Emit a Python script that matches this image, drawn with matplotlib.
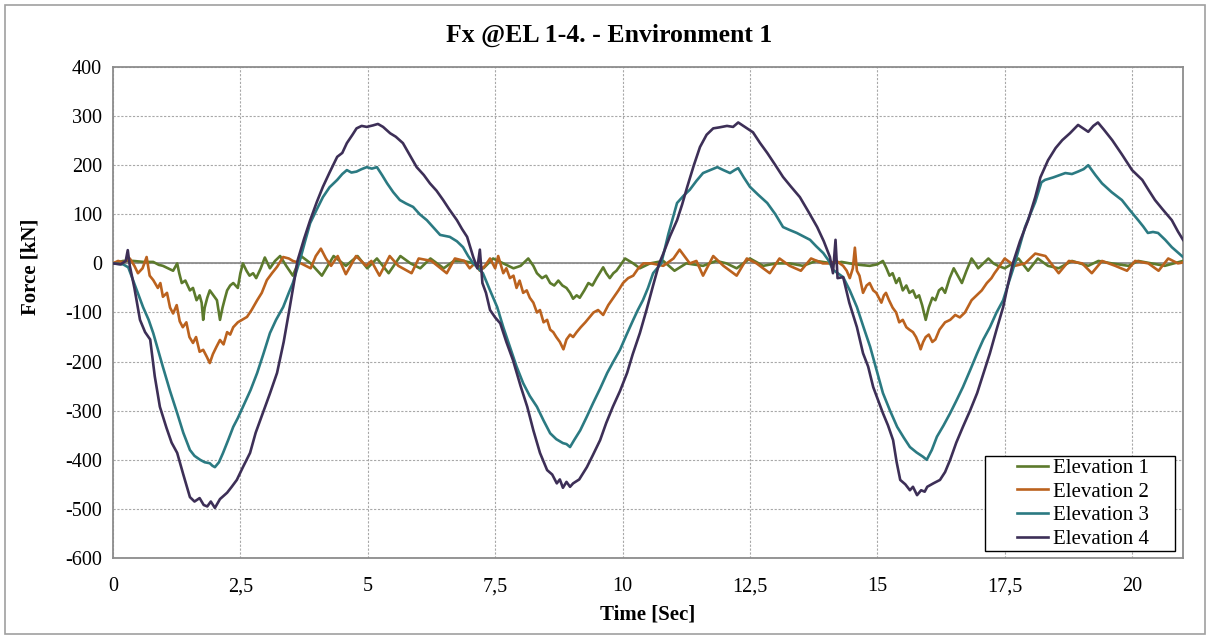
import numpy as np
import matplotlib.pyplot as plt
from matplotlib.patches import Rectangle

plt.rcParams['font.family'] = ['Liberation Serif', 'DejaVu Serif']
plt.rcParams['axes.unicode_minus'] = False

# Elevation 1 (green)
t_el1 = [0.0, 0.2, 0.4, 0.6, 0.79, 0.9, 0.98, 1.08, 1.18, 1.26, 1.3, 1.35, 1.42, 1.51, 1.57, 1.64, 1.7, 1.74, 1.77, 1.8,
         1.85, 1.9, 1.97, 2.04, 2.1, 2.15, 2.2, 2.24, 2.3, 2.36, 2.45, 2.5, 2.55, 2.62, 2.68, 2.75, 2.81, 2.9, 2.98, 3.08,
         3.18, 3.28, 3.4, 3.53, 3.69, 3.88, 4.1, 4.33, 4.57, 4.8, 4.99, 5.18, 5.41, 5.64, 5.84, 6.03, 6.23, 6.49, 6.69, 6.88,
         7.08, 7.27, 7.46, 7.66, 7.86, 8.0, 8.15, 8.25, 8.32, 8.42, 8.5, 8.58, 8.66, 8.74, 8.82, 8.9, 8.97, 9.03, 9.1, 9.16,
         9.25, 9.33, 9.41, 9.49, 9.55, 9.62, 9.68, 9.75, 9.82, 9.88, 9.95, 10.05, 10.21, 10.34, 10.54, 10.8, 11.02, 11.25, 11.58, 11.84,
         12.04, 12.24, 12.5, 12.76, 13.02, 13.28, 13.54, 13.8, 14.12, 14.3, 14.46, 14.65, 14.85, 15.0, 15.11, 15.18, 15.24, 15.3, 15.37, 15.43,
         15.5, 15.57, 15.63, 15.7, 15.76, 15.82, 15.88, 15.95, 16.01, 16.08, 16.14, 16.21, 16.27, 16.33, 16.42, 16.5, 16.58, 16.66, 16.75, 16.85,
         16.92, 16.98, 17.08, 17.18, 17.28, 17.37, 17.5, 17.66, 17.77, 17.96, 18.15, 18.35, 18.56, 18.82, 19.14, 19.34, 19.6, 19.93, 20.12, 20.38,
         20.64, 21.0]
f_el1 = [0, 5, 5, 3, 3, -3, -5, -10, -15, 0, -20, -40, -35, -55, -50, -75, -65, -80, -115, -90,
         -70, -55, -65, -75, -115, -90, -70, -55, -45, -40, -50, -20, 0, -15, -25, -20, -30, -10, 12, -10,
         5, 15, -5, -25, 15, 0, -25, 15, -5, 15, -10, 10, -20, 15, 0, -10, 10, -10, 5, 5,
         0, -10, 10, 0, -10, -5, 10, -5, -20, -30, -25, -40, -45, -35, -45, -50, -60, -72, -65, -70,
         -55, -40, -45, -30, -20, -8, -20, -30, -20, -15, -5, 10, 0, -10, 0, 5, -15, 0, -5, 5,
         0, -10, 10, -5, 0, 0, -5, 5, 0, 3, 0, -3, -5, -2, 5, -10, -25, -20, -40, -30,
         -55, -45, -60, -55, -70, -65, -85, -115, -90, -70, -75, -55, -50, -60, -30, -10, -25, -40, -15, 10,
         0, -10, 0, 10, 0, -5, -10, 0, 10, -15, 10, -5, -10, 5, -5, 5, 0, -5, 5, 0,
         -5, 5]

# Elevation 2 (orange)
t_el2 = [0.0, 0.1, 0.2, 0.33, 0.42, 0.49, 0.58, 0.66, 0.72, 0.79, 0.88, 0.93, 0.98, 1.06, 1.12, 1.18, 1.25, 1.31, 1.37, 1.44,
         1.5, 1.57, 1.63, 1.7, 1.77, 1.84, 1.9, 1.96, 2.03, 2.1, 2.17, 2.24, 2.3, 2.36, 2.45, 2.53, 2.63, 2.72, 2.83, 2.92,
         3.02, 3.12, 3.22, 3.34, 3.45, 3.53, 3.69, 3.88, 3.98, 4.08, 4.18, 4.28, 4.41, 4.57, 4.77, 4.97, 5.07, 5.23, 5.43, 5.6,
         5.86, 6.0, 6.25, 6.55, 6.71, 6.9, 7.0, 7.1, 7.2, 7.3, 7.4, 7.5, 7.56, 7.66, 7.72, 7.79, 7.86, 7.92, 7.98, 8.05,
         8.12, 8.18, 8.25, 8.32, 8.38, 8.45, 8.52, 8.58, 8.64, 8.7, 8.77, 8.84, 8.9, 8.97, 9.03, 9.1, 9.18, 9.27, 9.35, 9.43,
         9.52, 9.62, 9.72, 9.82, 9.92, 10.01, 10.11, 10.21, 10.31, 10.41, 10.57, 10.8, 11.0, 11.12, 11.32, 11.45, 11.58, 11.78, 11.98, 12.24,
         12.44, 12.63, 12.89, 13.08, 13.28, 13.5, 13.7, 13.93, 14.07, 14.2, 14.33, 14.4, 14.46, 14.52, 14.56, 14.6, 14.65, 14.72, 14.79, 14.85,
         14.92, 14.98, 15.03, 15.08, 15.13, 15.17, 15.23, 15.3, 15.37, 15.43, 15.5, 15.57, 15.63, 15.7, 15.76, 15.82, 15.85, 15.9, 15.95, 16.01,
         16.08, 16.14, 16.22, 16.33, 16.43, 16.53, 16.62, 16.72, 16.85, 16.95, 17.05, 17.15, 17.24, 17.3, 17.37, 17.5, 17.63, 17.7, 17.9, 18.1,
         18.3, 18.56, 18.76, 19.02, 19.21, 19.41, 19.67, 19.9, 20.06, 20.32, 20.52, 20.71, 20.9, 21.0]
f_el2 = [0, 5, 2, 10, -5, -20, -10, 13, -25, -34, -50, -40, -68, -60, -90, -102, -85, -118, -130, -120,
         -150, -162, -150, -180, -176, -190, -203, -185, -170, -156, -165, -140, -145, -130, -120, -115, -109, -95, -75, -60,
         -34, -20, -7, 13, 10, 5, 0, -10, 15, 30, 10, -5, 15, -22, 15, -5, 5, -25, 15, -5,
         -20, 10, 5, -20, 10, 5, -10, 0, -15, -5, 10, -10, 15, -20, -10, -30, -25, -50, -35, -60,
         -55, -70, -80, -100, -95, -120, -115, -135, -140, -150, -160, -175, -155, -145, -150, -140, -130, -120, -110, -100,
         -95, -105, -85, -70, -55, -40, -30, -25, -10, 0, 0, -5, 10, 28, 0, 5, -25, 15, -5, -25,
         10, 0, -20, 10, -5, -15, 10, 0, 0, 5, -5, -15, -30, -10, 32, -15, -25, -60, -45, -40,
         -55, -60, -70, -80, -65, -60, -75, -90, -100, -120, -115, -130, -135, -140, -150, -165, -175, -160, -150, -145,
         -160, -155, -135, -120, -115, -105, -110, -100, -75, -65, -55, -40, -30, -20, -10, 10, 0, -5, 0, 20,
         15, -20, 5, 0, -20, 5, -5, -15, 5, 0, -15, 10, 0, 2]

# Elevation 3 (teal)
t_el3 = [0.0, 0.2, 0.3, 0.45, 0.59, 0.7, 0.79, 0.88, 0.98, 1.12, 1.26, 1.38, 1.51, 1.6, 1.71, 1.8, 1.9, 1.95, 2.0, 2.08,
         2.16, 2.26, 2.36, 2.45, 2.55, 2.7, 2.83, 2.95, 3.08, 3.2, 3.34, 3.45, 3.53, 3.67, 3.77, 3.87, 4.0, 4.12, 4.25, 4.4,
         4.5, 4.59, 4.68, 4.78, 4.88, 4.98, 5.08, 5.18, 5.28, 5.38, 5.5, 5.63, 5.75, 5.89, 6.02, 6.16, 6.3, 6.42, 6.52, 6.61,
         6.75, 6.87, 6.97, 7.07, 7.15, 7.26, 7.4, 7.54, 7.66, 7.79, 7.92, 8.05, 8.18, 8.32, 8.45, 8.58, 8.7, 8.83, 8.9, 8.97,
         9.05, 9.17, 9.3, 9.42, 9.56, 9.7, 9.82, 9.95, 10.08, 10.21, 10.3, 10.4, 10.5, 10.6, 10.76, 10.9, 11.07, 11.2, 11.32, 11.45,
         11.58, 11.72, 11.86, 11.98, 12.11, 12.2, 12.27, 12.38, 12.5, 12.66, 12.84, 13.0, 13.15, 13.28, 13.42, 13.55, 13.68, 13.8, 13.94, 14.05,
         14.13, 14.33, 14.46, 14.6, 14.73, 14.86, 14.98, 15.11, 15.25, 15.39, 15.52, 15.64, 15.77, 15.9, 15.97, 16.07, 16.17, 16.3, 16.43, 16.55,
         16.68, 16.82, 16.96, 17.08, 17.21, 17.34, 17.47, 17.56, 17.66, 17.78, 17.9, 18.1, 18.22, 18.29, 18.45, 18.69, 18.82, 18.94, 19.05, 19.14,
         19.28, 19.41, 19.6, 19.8, 19.96, 20.12, 20.22, 20.31, 20.41, 20.51, 20.65, 20.78, 20.9, 21.0]
f_el3 = [0, -2, -8, -50, -89, -115, -142, -175, -211, -260, -305, -345, -380, -392, -400, -405, -407, -412, -415, -405,
         -386, -360, -333, -315, -292, -258, -223, -185, -142, -115, -89, -60, -40, 7, 45, 82, 110, 135, 155, 170,
         182, 190, 185, 187, 192, 196, 193, 196, 180, 163, 145, 129, 122, 115, 100, 88, 72, 58, 56, 54,
         45, 33, 15, 0, -8, -20, -55, -89, -130, -170, -210, -244, -270, -292, -320, -346, -358, -366, -368, -374,
         -360, -340, -312, -285, -255, -223, -200, -176, -145, -115, -95, -75, -50, -20, 0, 60, 123, 138, 150, 168,
         184, 190, 196, 190, 184, 190, 194, 175, 156, 140, 123, 100, 74, 68, 62, 55, 48, 35, 21, 5,
         -13, -28, -55, -89, -130, -170, -215, -264, -300, -333, -355, -374, -385, -394, -400, -380, -353, -330, -305, -280,
         -252, -218, -183, -155, -130, -100, -75, -45, -13, 30, 74, 125, 165, 170, 175, 184, 182, 187, 192, 200,
         180, 163, 145, 129, 108, 88, 75, 62, 64, 62, 48, 33, 22, 13]

# Elevation 4 (purple)
t_el4 = [0.0, 0.15, 0.25, 0.29, 0.33, 0.42, 0.53, 0.63, 0.73, 0.82, 0.92, 1.05, 1.15, 1.26, 1.38, 1.51, 1.6, 1.7, 1.78, 1.85,
         1.92, 2.0, 2.1, 2.24, 2.33, 2.43, 2.55, 2.69, 2.8, 2.94, 3.08, 3.22, 3.35, 3.47, 3.57, 3.62, 3.75, 3.87, 4.0, 4.12,
         4.25, 4.4, 4.5, 4.59, 4.7, 4.78, 4.88, 4.98, 5.1, 5.2, 5.3, 5.44, 5.55, 5.69, 5.8, 5.96, 6.1, 6.22, 6.35, 6.48,
         6.6, 6.75, 6.85, 6.95, 7.07, 7.15, 7.2, 7.25, 7.32, 7.4, 7.5, 7.6, 7.72, 7.85, 8.0, 8.13, 8.25, 8.38, 8.52, 8.62,
         8.71, 8.77, 8.83, 8.9, 8.97, 9.03, 9.15, 9.3, 9.42, 9.56, 9.68, 9.81, 9.95, 10.09, 10.2, 10.34, 10.47, 10.6, 10.72, 10.8,
         10.93, 11.07, 11.17, 11.27, 11.4, 11.52, 11.65, 11.78, 11.9, 12.05, 12.17, 12.27, 12.4, 12.56, 12.7, 12.84, 13.0, 13.15, 13.3, 13.48,
         13.65, 13.82, 13.95, 14.07, 14.13, 14.18, 14.22, 14.33, 14.45, 14.6, 14.72, 14.82, 14.92, 15.02, 15.11, 15.21, 15.31, 15.38, 15.45, 15.55,
         15.64, 15.7, 15.78, 15.86, 15.93, 15.98, 16.1, 16.23, 16.33, 16.43, 16.55, 16.68, 16.82, 16.96, 17.08, 17.21, 17.34, 17.47, 17.56, 17.66,
         17.8, 17.96, 18.1, 18.2, 18.35, 18.5, 18.63, 18.78, 18.94, 19.04, 19.14, 19.24, 19.33, 19.45, 19.61, 19.8, 20.0, 20.1, 20.2, 20.32,
         20.45, 20.6, 20.78, 20.9, 21.0]
f_el4 = [0, -2, 5, 27, -5, -50, -115, -140, -155, -230, -292, -335, -365, -386, -430, -476, -485, -478, -492, -495,
         -485, -498, -480, -467, -455, -441, -415, -386, -345, -305, -265, -223, -160, -89, -28, 5, 50, 88, 125, 156,
         185, 217, 225, 245, 262, 275, 280, 278, 281, 284, 278, 265, 258, 245, 225, 196, 180, 163, 148, 129,
         110, 88, 70, 54, 13, -10, 28, -40, -60, -95, -110, -122, -160, -197, -250, -292, -340, -386, -421, -430,
         -448, -440, -457, -445, -455, -448, -440, -415, -390, -360, -325, -292, -260, -223, -185, -142, -95, -45, 0, 20,
         55, 88, 120, 156, 200, 237, 262, 275, 277, 280, 278, 287, 278, 267, 245, 225, 200, 176, 157, 135,
         105, 74, 45, 13, -20, 48, -30, -28, -80, -130, -183, -210, -252, -280, -305, -330, -360, -405, -441, -450,
         -462, -455, -472, -462, -465, -455, -448, -441, -425, -400, -365, -333, -300, -264, -225, -183, -135, -89, -45, 0,
         45, 88, 135, 175, 210, 235, 251, 265, 282, 275, 268, 280, 287, 272, 251, 222, 190, 180, 170, 150,
         129, 110, 88, 65, 48]

labels = ['Elevation 1', 'Elevation 2', 'Elevation 3', 'Elevation 4']
colors = ['#5c7a2c', '#bb621e', '#2b7a82', '#3d2f57']
x_ticks = [0, 2.5, 5, 7.5, 10, 12.5, 15, 17.5, 20]
x_ticklabels = ['0', '2,5', '5', '7,5', '10', '12,5', '15', '17,5', '20']
y_ticks = list(range(-600, 401, 100))

fig = plt.figure(figsize=(12.11, 6.38), dpi=100)
fig.patches.append(Rectangle((0.004, 0.006), 0.991, 0.986, transform=fig.transFigure,
                             fill=False, edgecolor='#a0a0a0', linewidth=1.2))
ax = fig.add_axes([0.0933, 0.1254, 0.8836, 0.7696])

series = [(t_el1, f_el1), (t_el2, f_el2), (t_el3, f_el3), (t_el4, f_el4)]
for (t, f), lab, c in zip(series, labels, colors):
    ax.plot(t, f, color=c, lw=1.9, label=lab, zorder=3)

ax.axhline(0, color='#8c8c8c', lw=1.3, zorder=2)
ax.set_xlim(0, 21)
ax.set_ylim(-600, 400)
ax.set_xticks(x_ticks)
ax.set_xticklabels(x_ticklabels)
ax.set_yticks(y_ticks)
ax.tick_params(length=0, labelsize=14.5)
ax.tick_params(axis='x', pad=14)
ax.tick_params(axis='y', pad=8)
ax.grid(True, color='#a8a8a8', linestyle=(0, (2, 1.5)), linewidth=0.8, zorder=1)
for s in ax.spines.values():
    s.set_color('#8c8c8c')
    s.set_linewidth(1.3)

fig.text(0.503, 0.945, 'Fx @EL 1-4. - Environment 1', fontsize=18.5, fontweight='bold',
         ha='center', va='center')
ax.set_xlabel('Time [Sec]', fontsize=15, fontweight='bold', labelpad=6)
ax.set_ylabel('Force [kN]', fontsize=15, fontweight='bold')
ax.yaxis.set_label_coords(-0.068, 0.593)

# legend box drawn separately so the frame can be wider than the entries
ax.add_patch(Rectangle((0.815, 0.0143), 0.1775, 0.1934, transform=ax.transAxes,
                       facecolor='white', edgecolor='black', linewidth=1.0, zorder=5))
leg = ax.legend(loc='upper left', bbox_to_anchor=(0.845, 0.203), borderaxespad=0, borderpad=0,
                fontsize=15, handlelength=1.5, handletextpad=0.2, labelspacing=0.2,
                frameon=False)
leg.set_zorder(6)

fig.savefig('out.png', dpi=100)
